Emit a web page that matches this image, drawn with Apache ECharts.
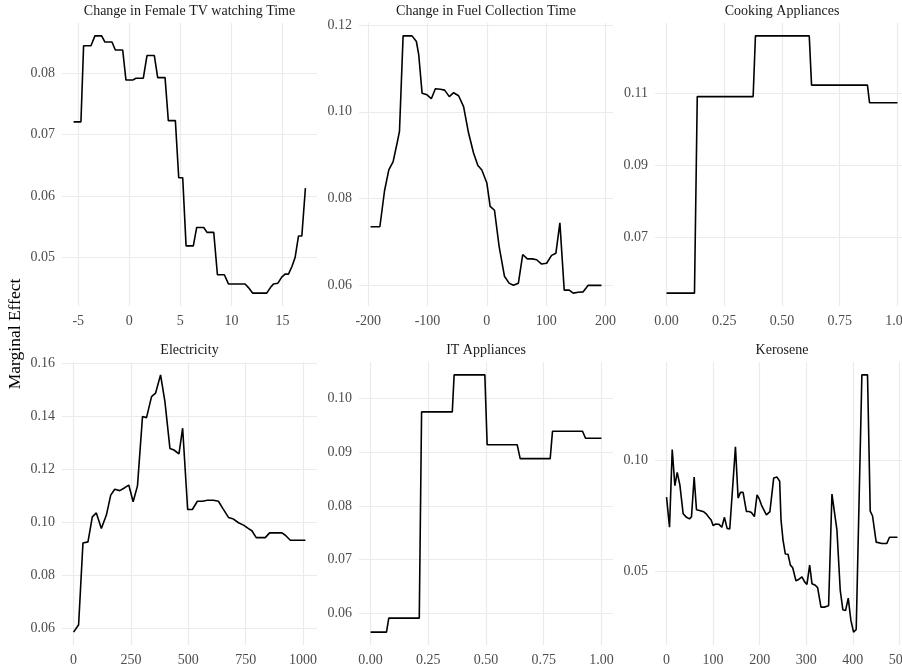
<!DOCTYPE html>
<html>
<head>
<meta charset="utf-8">
<script src="https://cdn.jsdelivr.net/npm/echarts@6/dist/echarts.min.js"></script>
<style>
  html, body { margin: 0; padding: 0; background: #ffffff; }
  #chart { width: 902px; height: 669px; }
</style>
</head>
<body>
<div id="chart"></div>
<script>
// ---------------- data ----------------
const titles = ['Change in Female TV watching Time', 'Change in Fuel Collection Time', 'Cooking Appliances',
                'Electricity', 'IT Appliances', 'Kerosene'];
const yAxisTitle = 'Marginal Effect';

const tvX = [-5.46,-4.74,-4.48,-3.76,-3.37,-2.71,-2.39,-1.70,-1.37,-0.65,-0.33,0.33,0.65,1.37,1.73,2.45,2.78,3.50,3.82,4.51,4.84,5.23,5.56,6.27,6.60,7.29,7.61,8.27,8.63,9.31,9.71,11.34,11.67,12.09,13.46,13.82,14.12,14.54,14.93,15.26,15.59,15.92,16.24,16.57,16.90,17.25];
const tvY = [0.0721,0.0721,0.0845,0.0845,0.0861,0.0861,0.0851,0.0851,0.0838,0.0838,0.0789,0.0789,0.0792,0.0792,0.0829,0.0829,0.0793,0.0793,0.0723,0.0723,0.0630,0.0630,0.0519,0.0519,0.0549,0.0549,0.0541,0.0541,0.0472,0.0472,0.0457,0.0457,0.0451,0.0442,0.0442,0.0451,0.0457,0.0458,0.0468,0.0473,0.0473,0.0485,0.0500,0.0535,0.0535,0.0613];
const tvXTicks = [-5, 0, 5, 10, 15];
const tvYTicks = [0.05, 0.06, 0.07, 0.08];

const fuelX = [-196.1,-180.4,-172.5,-165.3,-158.0,-151.3,-147.3,-141.2,-126.1,-118.8,-114.8,-109.2,-100.8,-93.6,-86.8,-78.4,-71.1,-63.3,-56.0,-47.6,-39.2,-30.8,-22.4,-15.1,-8.4,0,5.6,12.9,20.7,29.7,37.5,44.8,53.2,60.5,68.3,76.8,84.0,92.4,100.8,109.2,116.5,123.2,130.5,138.9,145.7,154.1,162.5,170.9,193.3];
const fuelY = [0.0735,0.0735,0.0818,0.0866,0.0885,0.0928,0.0955,0.1175,0.1175,0.1162,0.1131,0.1043,0.1039,0.1030,0.1053,0.1052,0.1050,0.1035,0.1044,0.1037,0.1012,0.0951,0.0905,0.0876,0.0866,0.0836,0.0782,0.0773,0.0690,0.0621,0.0605,0.0600,0.0605,0.0671,0.0661,0.0661,0.0659,0.0649,0.0651,0.0669,0.0674,0.0744,0.0589,0.0589,0.0582,0.0584,0.0585,0.0600,0.0600];
const fuelXTicks = [-200, -100, 0, 100, 200];
const fuelYTicks = [0.06, 0.08, 0.10, 0.12];

const cookX = [0, 0.121, 0.133, 0.375, 0.385, 0.618, 0.628, 0.870, 0.879, 1.0];
const cookY = [0.0544, 0.0544, 0.1091, 0.1091, 0.1260, 0.1260, 0.1123, 0.1123, 0.1074, 0.1074];
const cookXTicks = [0, 0.25, 0.5, 0.75, 1];
const cookYTicks = [0.07, 0.09, 0.11];

const elecX = [0,21.9,40.8,62.7,81.6,99.1,121,142.9,161.8,179.3,201.2,223,240.5,259.5,278.4,300.3,317.8,339.7,357.1,379,398,419.8,437.3,459.2,475.2,497.1,517.5,539.4,561.2,583.1,609.3,631.2,650.1,674.9,696.8,718.7,740.5,762.4,777,795.9,835.3,854.2,908.2,922.7,944.6,1010.2];
const elecY = [0.0587,0.0615,0.0923,0.0927,0.1021,0.1036,0.0977,0.1028,0.1103,0.1125,0.1120,0.1131,0.1141,0.1078,0.1138,0.1399,0.1395,0.1474,0.1487,0.1556,0.1455,0.1279,0.1273,0.1258,0.1355,0.1049,0.1049,0.1080,0.1080,0.1084,0.1084,0.1080,0.1053,0.1019,0.1013,0.0999,0.0990,0.0977,0.0969,0.0943,0.0943,0.0961,0.0961,0.0952,0.0933,0.0933];
const elecXTicks = [0, 250, 500, 750, 1000];
const elecYTicks = [0.06, 0.08, 0.10, 0.12, 0.14, 0.16];

const itX = [0,0.069,0.079,0.211,0.221,0.354,0.362,0.495,0.505,0.635,0.648,0.778,0.788,0.918,0.931,1.0];
const itY = [0.0565,0.0565,0.0591,0.0591,0.0975,0.0975,0.1044,0.1044,0.0914,0.0914,0.0888,0.0888,0.0939,0.0939,0.0926,0.0926];
const itXTicks = [0, 0.25, 0.5, 0.75, 1];
const itYTicks = [0.06, 0.07, 0.08, 0.09, 0.10];

const keroX = [0,6.4,12.2,17.9,22.9,28.6,35.7,42.9,49.3,53.6,59.3,64.3,70.8,74.3,80,85.1,90.8,95.8,100,105.8,112.2,118.7,124.4,130.1,135.8,148,153.7,158.7,164.4,171.6,177.3,182.3,188.7,194.4,199.4,205.1,214.5,222,230.2,237.3,243,245.9,250.2,255.2,260.9,266,271,278,283.8,290.9,296.6,301.6,307.4,312.4,319.5,324.5,331.7,338.8,348.1,355.3,366,373.1,378.8,384.6,390.3,396,401.7,407.4,419.6,431.7,437.5,442.5,450.3,462.5,473.2,478.9,496];
const keroY = [0.0833,0.0697,0.1048,0.0885,0.0945,0.0889,0.0758,0.0742,0.0735,0.0745,0.0924,0.0776,0.0773,0.0764,0.0767,0.0758,0.0742,0.0730,0.0705,0.0712,0.0711,0.0697,0.0742,0.0692,0.0689,0.1061,0.0829,0.0855,0.0855,0.0768,0.0768,0.0764,0.0745,0.0844,0.0824,0.0791,0.0753,0.0768,0.0920,0.0924,0.0905,0.0730,0.0639,0.0576,0.0575,0.0526,0.0514,0.0455,0.0461,0.0473,0.0450,0.0439,0.0526,0.0442,0.0435,0.0424,0.0336,0.0336,0.0342,0.0847,0.0685,0.0412,0.0324,0.0321,0.0377,0.0276,0.0223,0.0235,0.1386,0.1386,0.0770,0.0748,0.0630,0.0624,0.0624,0.0652,0.0652];
const keroXTicks = [0, 100, 200, 300, 400, 500];
const keroYTicks = [0.05, 0.10];

// ---------------- layout / style ----------------
const colLeft = [62, 359, 655];
const colWidth = [255, 254, 254];
const rowTop = [23, 362];
const rowHeight = 283;

const FONT = "'Liberation Serif', 'Times New Roman', serif";
const GRID_COLOR = '#ebebeb';

const panels = [
  { x: tvX,   y: tvY,   xt: tvXTicks,   yt: tvYTicks,   xd: 0 },
  { x: fuelX, y: fuelY, xt: fuelXTicks, yt: fuelYTicks, xd: 0 },
  { x: cookX, y: cookY, xt: cookXTicks, yt: cookYTicks, xd: 2 },
  { x: elecX, y: elecY, xt: elecXTicks, yt: elecYTicks, xd: 0 },
  { x: itX,   y: itY,   xt: itXTicks,   yt: itYTicks,   xd: 2 },
  { x: keroX, y: keroY, xt: keroXTicks, yt: keroYTicks, xd: 0 }
];

function expand(arr) {
  const lo = Math.min.apply(null, arr), hi = Math.max.apply(null, arr);
  const pad = (hi - lo) * 0.05;
  return [lo - pad, hi + pad];
}

const grids = [], xAxes = [], yAxes = [], series = [], graphics = [];
panels.forEach(function (p, i) {
  const col = i % 3, row = Math.floor(i / 3);
  const left = colLeft[col], top = rowTop[row], width = colWidth[col];
  grids.push({ left: left, top: top, width: width, height: rowHeight,
               containLabel: false, outerBoundsMode: 'none' });
  const xr = expand(p.x), yr = expand(p.y);
  xAxes.push({
    type: 'value', gridIndex: i, min: xr[0], max: xr[1],
    axisLine: { show: false },
    axisTick: { show: false, customValues: p.xt },
    axisLabel: { customValues: p.xt, color: '#4d4d4d', fontFamily: FONT, fontSize: 14, margin: 8,
                 formatter: function (v) { return Number(v).toFixed(p.xd); } },
    splitLine: { show: true, lineStyle: { color: GRID_COLOR, width: 1.2 } }
  });
  yAxes.push({
    type: 'value', gridIndex: i, min: yr[0], max: yr[1],
    axisLine: { show: false },
    axisTick: { show: false, customValues: p.yt },
    axisLabel: { customValues: p.yt, color: '#4d4d4d', fontFamily: FONT, fontSize: 14, margin: 7,
                 formatter: function (v) { return Number(v).toFixed(2); } },
    splitLine: { show: true, lineStyle: { color: GRID_COLOR, width: 1.2 } }
  });
  series.push({
    type: 'line', xAxisIndex: i, yAxisIndex: i,
    data: p.x.map(function (v, k) { return [v, p.y[k]]; }),
    showSymbol: false, symbol: 'none', smooth: false,
    lineStyle: { color: '#000000', width: 1.6 },
    silent: true, animation: false
  });
  graphics.push({
    type: 'text', x: left + width / 2, y: top - 12,
    style: { text: titles[i], fill: '#1a1a1a', font: '14px ' + FONT,
             textAlign: 'center', textVerticalAlign: 'middle' }
  });
});

graphics.push({
  type: 'text', x: 15, y: 334, rotation: Math.PI / 2,
  style: { text: yAxisTitle, fill: '#000000', font: '17.5px ' + FONT,
           textAlign: 'center', textVerticalAlign: 'middle' }
});

const chart = echarts.init(document.getElementById('chart'), null, { renderer: 'canvas' });
chart.setOption({
  backgroundColor: '#ffffff',
  animation: false,
  grid: grids,
  xAxis: xAxes,
  yAxis: yAxes,
  series: series,
  graphic: graphics
});
</script>
</body>
</html>
